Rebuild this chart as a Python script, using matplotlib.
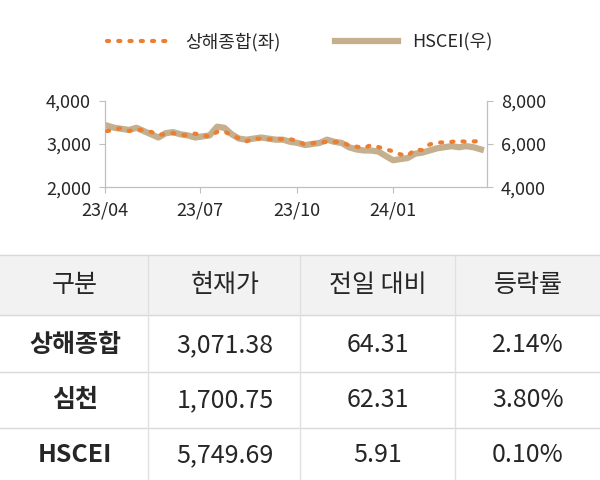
import numpy as np
import pandas as pd
import matplotlib
matplotlib.use("Agg")
import matplotlib.pyplot as plt
from matplotlib.lines import Line2D

plt.rcParams["font.family"] = "Noto Sans CJK KR"

dates = pd.date_range("2023-04-03", periods=52, freq="7D")
shanghai = [3300, 3330, 3370, 3300, 3350, 3310, 3280, 3210, 3230, 3250, 3210, 3200,
            3240, 3200, 3170, 3280, 3290, 3200, 3130, 3060, 3130, 3120, 3110, 3120,
            3110, 3110, 3070, 2980, 3020, 3030, 3050, 3050, 3040, 2970, 2940, 2910,
            2970, 2930, 2880, 2830, 2760, 2730, 2870, 2860, 2990, 3030, 3040, 3050,
            3070, 3050, 3060, 3070]
hscei = [6850, 6750, 6700, 6650, 6750, 6600, 6450, 6300, 6500, 6550, 6450, 6400,
         6300, 6350, 6400, 6800, 6750, 6450, 6250, 6200, 6250, 6300, 6250, 6200,
         6200, 6100, 6050, 5950, 6000, 6050, 6200, 6100, 6050, 5850, 5750, 5700,
         5700, 5650, 5450, 5250, 5300, 5350, 5550, 5600, 5700, 5800, 5850, 5900,
         5850, 5900, 5850, 5750]
tick_dates = pd.to_datetime(["2023-04-01", "2023-07-01", "2023-10-01", "2024-01-01"])
tick_labels = ["23/04", "23/07", "23/10", "24/01"]

header = ["구분", "현재가", "전일 대비", "등락률"]
rows = [["상해종합", "3,071.38", "64.31", "2.14%"],
        ["심천", "1,700.75", "62.31", "3.80%"],
        ["HSCEI", "5,749.69", "5.91", "0.10%"]]

orange = "#ED7D31"
tan = "#C4B08E"

fig = plt.figure(figsize=(6, 4.8), dpi=100)
ax = fig.add_axes([0.175, 0.61, 0.637, 0.18])
ax2 = ax.twinx()
ax2.plot(dates, hscei, color=tan, lw=4.5, zorder=1)
ax.plot(dates, shanghai, color=orange, lw=3, ls=(0, (0.5, 2.2)), dash_capstyle="round", zorder=3)
ax.set_zorder(ax2.get_zorder() + 1)
ax.patch.set_visible(False)
ax.set_ylim(2000, 4000)
ax2.set_ylim(4000, 8000)
ax.set_yticks([2000, 3000, 4000])
ax2.set_yticks([4000, 6000, 8000])
ax.yaxis.set_major_formatter(matplotlib.ticker.StrMethodFormatter("{x:,.0f}"))
ax2.yaxis.set_major_formatter(matplotlib.ticker.StrMethodFormatter("{x:,.0f}"))
ax.set_xlim(pd.Timestamp("2023-04-01"), pd.Timestamp("2024-03-31"))
ax.set_xticks(tick_dates)
ax.set_xticklabels(tick_labels)
for a in (ax, ax2):
    a.spines["top"].set_visible(False)
    for s in ("left", "right", "bottom"):
        a.spines[s].set_color("#BFBFBF")
    a.tick_params(labelsize=13, color="#BFBFBF", direction="out", length=4, pad=6,
                  labelcolor="#262626")

handles = [Line2D([], [], color=orange, lw=3, ls=(0, (0.5, 2.2)), dash_capstyle="round"),
           Line2D([], [], color=tan, lw=4.5)]
fig.legend(handles, ["상해종합(좌)", "HSCEI(우)"], loc="center", bbox_to_anchor=(0.5, 0.912),
           ncol=2, frameon=False, fontsize=13, columnspacing=3, handlelength=3.5,
           labelcolor="#262626")

# table
H = 480
def fy(p):
    return 1 - p / H

col_x = [75, 225, 378, 528]
fig.patches.append(plt.Rectangle((0, fy(315)), 1, (315 - 255) / H, transform=fig.transFigure,
                                 color="#F2F2F2", zorder=0))
for yb in (255, 315, 372, 428):
    fig.add_artist(Line2D([0, 1], [fy(yb), fy(yb)], color="#D9D9D9", lw=1))
for xb in (148, 300, 455):
    fig.add_artist(Line2D([xb / 600, xb / 600], [0, fy(255)], color="#E0E0E0", lw=1))
for x, t in zip(col_x, header):
    fig.text(x / 600, fy(285), t, ha="center", va="center", fontsize=18,
             color="#262626", fontweight="medium")
for yc, r in zip((345, 400, 455), rows):
    for j, (x, t) in enumerate(zip(col_x, r)):
        fig.text(x / 600, fy(yc), t, ha="center", va="center", fontsize=18,
                 color="#262626", fontweight="bold" if j == 0 else "medium")

fig.savefig("out.png", dpi=100)
